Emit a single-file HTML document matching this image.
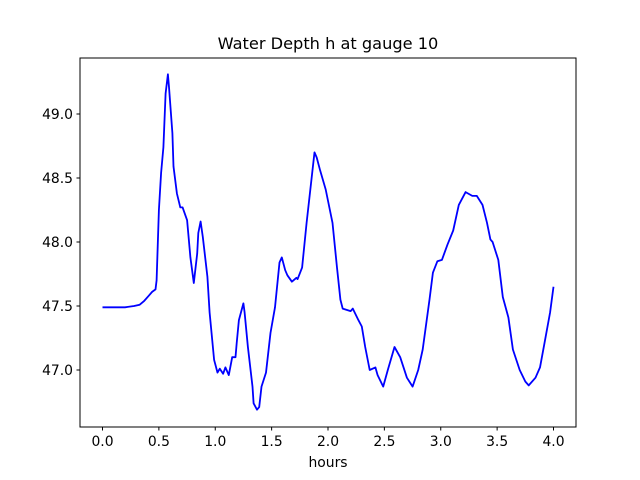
<!DOCTYPE html>
<html><head><meta charset="utf-8"><style>body{margin:0;background:#fff}svg{display:block}</style></head>
<body>
<svg id="chart" width="640" height="480" xmlns="http://www.w3.org/2000/svg" font-family="DejaVu Sans, Liberation Sans, sans-serif">
<rect width="640" height="480" fill="#fff"/>
<text x="328" y="49" font-size="16.2" text-anchor="middle">Water Depth h at gauge 10</text>
<text x="328" y="467" font-size="13.9" text-anchor="middle">hours</text>
<g id="ticks"></g>
<path id="series" fill="none" stroke="#0000ff" stroke-width="1.8" stroke-linejoin="round"/>
<rect x="80" y="58" width="496" height="369" fill="none" stroke="#000" stroke-width="1"/>
</svg>
<script>
const hours=[0,0.1,0.2,0.28,0.33,0.37,0.41,0.44,0.47,0.48,0.50,0.52,0.54,0.56,0.58,0.59,0.62,0.63,0.66,0.69,0.71,0.75,0.78,0.81,0.84,0.85,0.87,0.89,0.93,0.95,0.99,1.02,1.04,1.07,1.09,1.12,1.15,1.18,1.19,1.21,1.25,1.26,1.29,1.33,1.34,1.37,1.39,1.41,1.45,1.49,1.53,1.57,1.59,1.62,1.64,1.68,1.72,1.73,1.77,1.81,1.86,1.88,1.90,1.93,1.98,2.04,2.08,2.11,2.13,2.20,2.22,2.27,2.30,2.33,2.37,2.42,2.44,2.49,2.53,2.59,2.64,2.70,2.75,2.80,2.84,2.90,2.93,2.97,3.01,3.06,3.11,3.16,3.22,3.28,3.32,3.37,3.41,3.44,3.46,3.51,3.55,3.60,3.64,3.70,3.75,3.78,3.84,3.88,3.92,3.97,4.00];
const depth=[47.49,47.49,47.49,47.50,47.51,47.54,47.58,47.61,47.63,47.70,48.25,48.54,48.74,49.16,49.31,49.21,48.85,48.59,48.38,48.27,48.27,48.17,47.88,47.68,47.91,48.07,48.16,48.04,47.73,47.45,47.08,46.98,47.01,46.97,47.02,46.96,47.10,47.10,47.21,47.39,47.52,47.45,47.18,46.87,46.74,46.69,46.71,46.87,46.98,47.29,47.49,47.84,47.88,47.78,47.74,47.69,47.72,47.71,47.80,48.15,48.54,48.70,48.66,48.56,48.41,48.15,47.80,47.55,47.48,47.46,47.48,47.39,47.34,47.18,47.00,47.02,46.96,46.87,47.00,47.18,47.10,46.94,46.87,47.00,47.16,47.55,47.76,47.85,47.86,47.98,48.09,48.29,48.39,48.36,48.36,48.29,48.15,48.02,48.00,47.86,47.57,47.41,47.16,47.00,46.91,46.88,46.94,47.02,47.21,47.45,47.65];
const xTicks=[0,0.5,1,1.5,2,2.5,3,3.5,4];
const xTickLabels=["0.0","0.5","1.0","1.5","2.0","2.5","3.0","3.5","4.0"];
const yTicks=[47,47.5,48,48.5,49];
const yTickLabels=["47.0","47.5","48.0","48.5","49.0"];
function xs(h){return 102.5+h*112.75;}
function ys(v){return 114+(49-v)*128;}
const NS="http://www.w3.org/2000/svg";
const g=document.getElementById('ticks');
xTicks.forEach((t,i)=>{
 const l=document.createElementNS(NS,'line');
 
 
 l.setAttribute('x1',xs(t));l.setAttribute('x2',xs(t));l.setAttribute('y1',427);l.setAttribute('y2',430.5);l.setAttribute('stroke','#000');
 g.appendChild(l);
 const tx=document.createElementNS(NS,'text');
 
 
 tx.setAttribute('x',xs(t));tx.setAttribute('y',446);tx.setAttribute('font-size','13.9');tx.setAttribute('text-anchor','middle');
 tx.textContent=xTickLabels[i];g.appendChild(tx);
});
yTicks.forEach((t,i)=>{
 const l=document.createElementNS(NS,'line');
 
 
 l.setAttribute('x1',76.5);l.setAttribute('x2',80);l.setAttribute('y1',ys(t));l.setAttribute('y2',ys(t));l.setAttribute('stroke','#000');
 g.appendChild(l);
 const tx=document.createElementNS(NS,'text');
 
 
 tx.setAttribute('x',73);tx.setAttribute('y',ys(t)+5);tx.setAttribute('font-size','13.9');tx.setAttribute('text-anchor','end');
 tx.textContent=yTickLabels[i];g.appendChild(tx);
});
document.getElementById('series').setAttribute('d',hours.map((h,i)=>(i?'L':'M')+xs(h).toFixed(1)+','+ys(depth[i]).toFixed(1)).join(''));
</script>
</body></html>
